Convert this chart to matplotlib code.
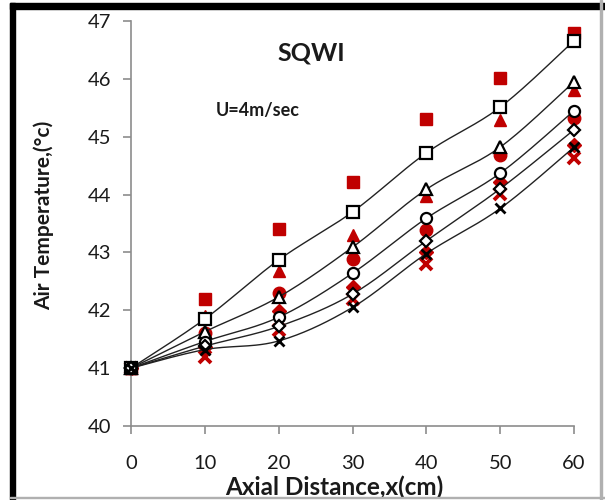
import numpy as np
import matplotlib
matplotlib.use("Agg")
import matplotlib.pyplot as plt
from matplotlib.patches import Rectangle

plt.rcParams['font.family'] = ['Lato', 'DejaVu Sans']

# axial positions (cm)
x = [0, 10, 20, 30, 40, 50, 60]

# experiment (red, filled markers)
exp_sq = [41.0, 42.19, 43.40, 44.21, 45.31, 46.01, 46.80]
exp_tri = [41.0, 41.90, 42.68, 43.30, 43.98, 45.29, 45.80]
exp_cir = [41.0, 41.60, 42.30, 42.89, 43.39, 44.68, 45.32]
exp_dia = [41.0, 41.37, 41.99, 42.41, 43.00, 44.21, 44.85]
exp_x = [41.0, 41.19, 41.66, 42.19, 42.80, 44.01, 44.63]

# model (black, open markers + smoothed lines)
mod_sq = [41.0, 41.85, 42.87, 43.70, 44.72, 45.51, 46.66]
mod_tri = [41.0, 41.63, 42.23, 43.09, 44.09, 44.82, 45.95]
mod_cir = [41.0, 41.46, 41.88, 42.64, 43.59, 44.37, 45.45]
mod_dia = [41.0, 41.38, 41.72, 42.28, 43.20, 44.10, 45.12]
mod_x = [41.0, 41.32, 41.47, 42.05, 42.98, 43.76, 44.82]

RED = "#c00000"
TXT = "#1a1a1a"


def smooth(xs, ys, n=30):
    # excel-style smoothed line (catmull-rom as bezier)
    p = np.column_stack([xs, ys]).astype(float)
    p = np.vstack([p[0], p, p[-1]])
    out = []
    for i in range(1, len(p) - 2):
        p0, p1, p2, p3 = p[i - 1], p[i], p[i + 1], p[i + 2]
        b1 = p1 + (p2 - p0) / 6
        b2 = p2 - (p3 - p1) / 6
        t = np.linspace(0, 1, n)[:, None]
        seg = (1 - t) ** 3 * p1 + 3 * (1 - t) ** 2 * t * b1 + 3 * (1 - t) * t ** 2 * b2 + t ** 3 * p2
        out.append(seg if i == 1 else seg[1:])
    out = np.vstack(out)
    return out[:, 0], out[:, 1]


fig = plt.figure(figsize=(6.05, 5.0), dpi=100)
ax = fig.add_axes([0.2165, 0.148, 0.7323, 0.81])

# red experiment markers
ax.plot(x, exp_sq, ls="none", marker="s", ms=9, color=RED, zorder=2, clip_on=False)
ax.plot(x, exp_tri, ls="none", marker="^", ms=9, color=RED, zorder=2, clip_on=False)
ax.plot(x, exp_cir, ls="none", marker="o", ms=9, color=RED, zorder=2, clip_on=False)
ax.plot(x, exp_dia, ls="none", marker="D", ms=7, color=RED, zorder=2, clip_on=False)
ax.plot(x, exp_x, ls="none", marker="x", ms=8, mew=2.8, color=RED, zorder=2, clip_on=False)

# black model curves
for ys, mk, ms in ((mod_sq, "s", 8), (mod_tri, "^", 8), (mod_cir, "o", 8),
                   (mod_dia, "D", 6), (mod_x, "x", 7)):
    sx, sy = smooth(x, ys)
    ax.plot(sx, sy, color="#222222", lw=1.0, zorder=3)
    if mk == "x":
        ax.plot(x, ys, ls="none", marker="x", ms=ms, mew=2, color="black", zorder=4, clip_on=False)
    else:
        ax.plot(x, ys, ls="none", marker=mk, ms=ms, mfc="white", mec="black", mew=1.6,
                zorder=4, clip_on=False)

ax.set_xlim(0, 60)
ax.set_ylim(40, 47)
ax.set_xticks(range(0, 61, 10))
ax.set_yticks(range(40, 48))
for s in ("top", "right"):
    ax.spines[s].set_visible(False)
for s in ("left", "bottom"):
    ax.spines[s].set_color("#8c8c8c")
    ax.spines[s].set_linewidth(1.2)
ax.tick_params(direction="out", length=6, width=1.2, color="#8c8c8c",
               labelsize=14.5, labelcolor=TXT, pad=8)
ax.tick_params(axis="x", pad=15)

ax.text(0.406, 0.921, "SQWI", transform=ax.transAxes, ha="center", va="center",
        fontsize=18, weight="bold", color=TXT)
ax.text(0.287, 0.78, "U=4m/sec", transform=ax.transAxes, ha="center", va="center",
        fontsize=13, weight="bold", color=TXT)

fig.text(0.553, 0.026, "Axial Distance,x(cm)", ha="center", va="center",
         fontsize=17.5, weight="bold", color=TXT)
fig.text(0.072, 0.57, "Air Temperature,(°c)", ha="center", va="center",
         rotation=90, fontsize=15, weight="bold", color=TXT)

# outer frame: thick black top/left, thin grey right/bottom
fig.patches.append(Rectangle((10 / 605, 0), 5 / 605, 1 - 3 / 500, transform=fig.transFigure,
                             color="black", zorder=10))
fig.patches.append(Rectangle((10 / 605, 1 - 9 / 500), 1, 6 / 500, transform=fig.transFigure,
                             color="black", zorder=10))
fig.patches.append(Rectangle((600 / 605, 0), 1.5 / 605, 1, transform=fig.transFigure,
                             color="#b0b0b0", zorder=10))
fig.patches.append(Rectangle((10 / 605, 2 / 500), 1, 1.5 / 500, transform=fig.transFigure,
                             color="#b0b0b0", zorder=10))

fig.savefig("out.png", dpi=100)
